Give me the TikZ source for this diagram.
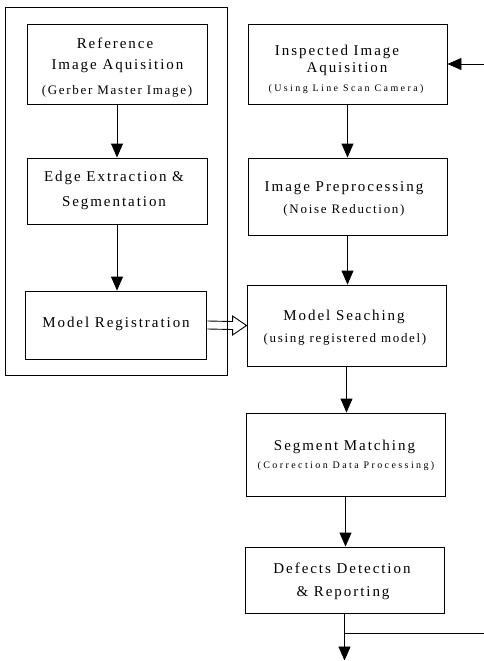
\documentclass[tikz,border=0pt]{standalone}
\usepackage{fontspec}
\setmainfont{Liberation Serif}
\newfontfamily\bigf[LetterSpace=13]{Liberation Serif}
\newfontfamily\midf[LetterSpace=13]{Liberation Serif}
\newfontfamily\tinyf[LetterSpace=24]{Liberation Serif}
\usetikzlibrary{arrows.meta,calc}
\begin{document}
\begin{tikzpicture}[x=1pt,y=-1pt,
  box/.style={draw, line width=0.9pt, inner sep=0pt},
  arr/.style={line width=0.9pt, -{Triangle[length=14pt,width=12pt]}},
  big/.style={font=\bigf\fontsize{15}{15}\selectfont, inner sep=0pt},
  mid/.style={font=\midf\fontsize{13}{13}\selectfont, inner sep=0pt},
  tiny/.style={font=\tinyf\fontsize{10}{10}\selectfont, inner sep=0pt}]
\useasboundingbox (0,0) rectangle (484,661);
% group frame
\node[box, minimum width=222pt, minimum height=368pt] (grp) at (116,191) {};
% left boxes
\node[box, minimum width=180pt, minimum height=80pt] (L1) at (117,64) {};
\node[box, minimum width=180pt, minimum height=66pt] (L2) at (117,191) {};
\node[box, minimum width=181pt, minimum height=68pt] (L3) at (115.5,325) {};
% right boxes
\node[box, minimum width=199pt, minimum height=80pt] (R1) at (347.5,64) {};
\node[box, minimum width=199pt, minimum height=77pt] (R2) at (347.5,196.5) {};
\node[box, minimum width=199pt, minimum height=81pt] (R3) at (346.5,325.5) {};
\node[box, minimum width=199pt, minimum height=83pt] (R4) at (345.5,454.5) {};
\node[box, minimum width=199pt, minimum height=66pt] (R5) at (344.5,580) {};
% texts
\node[big] (t1a) at (115,43) {Reference};
\node[big] (t1b) at (117.5,66) {Image Aquisition};
\node[mid] (t1c) at (117,91) {(Gerber Master Image)};
\node[big] (t2a) at (114,178) {Edge Extraction \&};
\node[big] (t2b) at (114,203) {Segmentation};
\node[big] (t3a) at (116,324) {Model Registration};
\node[big] (r1a) at (337,52) {Inspected Image};
\node[big] (r1b) at (347,69) {Aquisition};
\node[tiny] (r1c) at (346,89) {(Using Line Scan Camera)};
\node[big] (r2a) at (344,188) {Image Preprocessing};
\node[mid] (r2b) at (344,210) {(Noise Reduction)};
\node[big] (r3a) at (344,317) {Model Seaching};
\node[mid] (r3b) at (345,339) {(using registered model)};
\node[big] (r4a) at (344.5,447) {Segment Matching};
\node[tiny] (r4b) at (346,466) {(Correction Data Processing)};
\node[big] (r5a) at (342,568) {Defects Detection};
\node[big] (r5b) at (343,593) {\& Reporting};
% connectors
\draw[arr] (L1.south) -- (L1.south |- L2.north);
\draw[arr] (L2.south) -- (L2.south |- L3.north);
\draw[arr] (R1.south) -- (R1.south |- R2.north);
\draw[arr] (R2.south) -- (R2.south |- R3.north);
\draw[arr] (R3.south) -- (R3.south |- R4.north);
\draw[arr] (R4.south) -- (R4.south |- R5.north);
\coordinate (in) at (484,64);
\draw[arr] (in) -- (R1.east);
\coordinate (out) at (344.5,660.5);
\draw[arr] (R5.south) -- (out);
\coordinate (br) at (484,633);
\draw[line width=0.9pt] (R5.south |- br) -- (br);
% hollow arrow
\draw[line width=0.9pt, line join=miter]
  ($(L3.east)+(1,-4)$) -- ($(R3.west)+(-14,-4)$) -- ($(R3.west)+(-14,-9.5)$)
  -- (R3.west) -- ($(R3.west)+(-14,9.5)$) -- ($(R3.west)+(-14,4)$) -- ($(L3.east)+(1,4)$);
\end{tikzpicture}
\end{document}
